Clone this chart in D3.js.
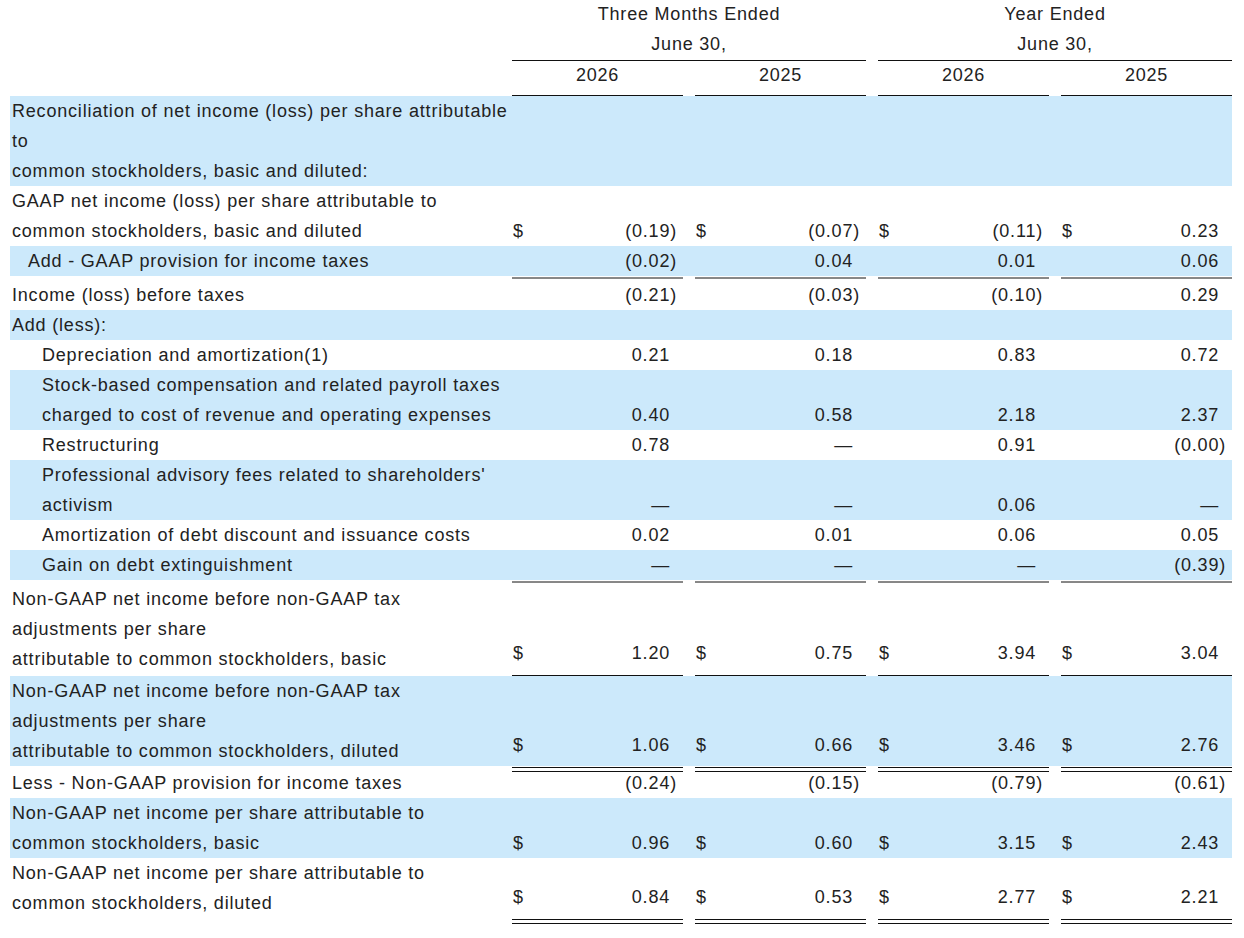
<!DOCTYPE html>
<html><head><meta charset="utf-8">
<script src="https://cdn.jsdelivr.net/npm/d3@7/dist/d3.min.js"></script>
<style>body{margin:0;background:#fff}text{font-family:"Liberation Sans",Arial,sans-serif;font-size:18px;fill:#222;letter-spacing:0.8px}</style>
</head><body><svg id="chart" width="1244" height="938"></svg>
<script>
// header data
var groups = ["Three Months Ended|June 30,", "Year Ended|June 30,"];
var years = ["2026", "2025", "2026", "2025"];

// row labels (| = line break), indent level, shading, dollar sign, rule below
var labels = [
  "Reconciliation of net income (loss) per share attributable|to|common stockholders, basic and diluted:",
  "GAAP net income (loss) per share attributable to|common stockholders, basic and diluted",
  "Add - GAAP provision for income taxes",
  "Income (loss) before taxes",
  "Add (less):",
  "Depreciation and amortization(1)",
  "Stock-based compensation and related payroll taxes|charged to cost of revenue and operating expenses",
  "Restructuring",
  "Professional advisory fees related to shareholders'|activism",
  "Amortization of debt discount and issuance costs",
  "Gain on debt extinguishment",
  "Non-GAAP net income before non-GAAP tax|adjustments per share|attributable to common stockholders, basic",
  "Non-GAAP net income before non-GAAP tax|adjustments per share|attributable to common stockholders, diluted",
  "Less - Non-GAAP provision for income taxes",
  "Non-GAAP net income per share attributable to|common stockholders, basic",
  "Non-GAAP net income per share attributable to|common stockholders, diluted"
];
var indent = [0,0,1,0,0,2,2,2,2,2,2,0,0,0,0,0];
var shaded = [1,0,1,0,1,0,1,0,1,0,1,0,1,0,1,0];
var dollar = [0,1,0,0,0,0,0,0,0,0,0,1,1,0,1,1];
var rule   = ["","","single","","","","","","","","single","double","double","","","double"];

// values per column (null = blank row)
var q2026 = [null,"(0.19)","(0.02)","(0.21)",null,"0.21","0.40","0.78","—","0.02","—","1.20","1.06","(0.24)","0.96","0.84"];
var q2025 = [null,"(0.07)","0.04","(0.03)",null,"0.18","0.58","—","—","0.01","—","0.75","0.66","(0.15)","0.60","0.53"];
var y2026 = [null,"(0.11)","0.01","(0.10)",null,"0.83","2.18","0.91","0.06","0.06","—","3.94","3.46","(0.79)","3.15","2.77"];
var y2025 = [null,"0.23","0.06","0.29",null,"0.72","2.37","(0.00)","—","0.05","(0.39)","3.04","2.76","(0.61)","2.43","2.21"];
var cols = [q2026, q2025, y2026, y2025];

var svg = d3.select("#chart");
var lineH = 30, top0 = 96;
var colX = d3.scaleLinear().domain([0, 3]).range([512, 1061]);
var colW = 171;

// row layout
var rows = [], y = top0;
labels.forEach(function(l, i) {
  var lines = l.split("|");
  rows.push({i: i, lines: lines, top: y, h: lines.length * lineH});
  y += lines.length * lineH;
  if (rule[i]) y += rule[i] === "double" ? 2 : 4;
});

// headers
groups.forEach(function(g, k) {
  var x0 = colX(k * 2), x1 = colX(k * 2 + 1) + colW;
  g.split("|").forEach(function(t, j) {
    svg.append("text").attr("x", (x0 + x1) / 2).attr("y", 20 + j * 30).attr("text-anchor", "middle").text(t);
  });
  svg.append("line").attr("x1", x0).attr("x2", x1).attr("y1", 60.5).attr("y2", 60.5).attr("stroke", "#111");
});
years.forEach(function(t, c) {
  svg.append("text").attr("x", colX(c) + colW / 2).attr("y", 81).attr("text-anchor", "middle").text(t);
  svg.append("line").attr("x1", colX(c)).attr("x2", colX(c) + colW).attr("y1", 95.5).attr("y2", 95.5).attr("stroke", "#111");
});

var g = svg.selectAll("g.row").data(rows).enter().append("g").attr("class", "row");
g.filter(function(d) { return shaded[d.i]; }).append("rect")
  .attr("x", 10).attr("width", 1222).attr("y", function(d) { return d.top; }).attr("height", function(d) { return d.h; })
  .attr("fill", "#cce9fb");

g.each(function(d) {
  var s = d3.select(this);
  d.lines.forEach(function(t, j) {
    s.append("text").attr("x", 12 + [0, 16, 30][indent[d.i]]).attr("y", d.top + 21 + j * lineH).text(t);
  });
  var vy = d.top + 21 + (d.lines.length - 1) * lineH - (d.lines.length > 1 && dollar[d.i] && rule[d.i] ? 6 : 0);
  if (d.i === 15) vy = d.top + 45;
  cols.forEach(function(col, c) {
    var v = col[d.i];
    if (v == null) return;
    var neg = v.charAt(0) === "(";
    if (dollar[d.i]) s.append("text").attr("x", colX(c) + 1).attr("y", vy).text("$");
    s.append("text").attr("x", colX(c) + colW - (neg ? 6 : 13)).attr("y", vy).attr("text-anchor", "end").text(v);
    var ry = d.top + d.h + 2;
    if (rule[d.i] === "single") {
      s.append("line").attr("x1", colX(c)).attr("x2", colX(c) + colW).attr("y1", ry).attr("y2", ry).attr("stroke", "#111");
    } else if (rule[d.i] === "double") {
      [ry - 0.5, ry + 3.5].forEach(function(yy) {
        s.append("line").attr("x1", colX(c)).attr("x2", colX(c) + colW).attr("y1", yy).attr("y2", yy).attr("stroke", "#111");
      });
    }
  });
});
</script></body></html>
